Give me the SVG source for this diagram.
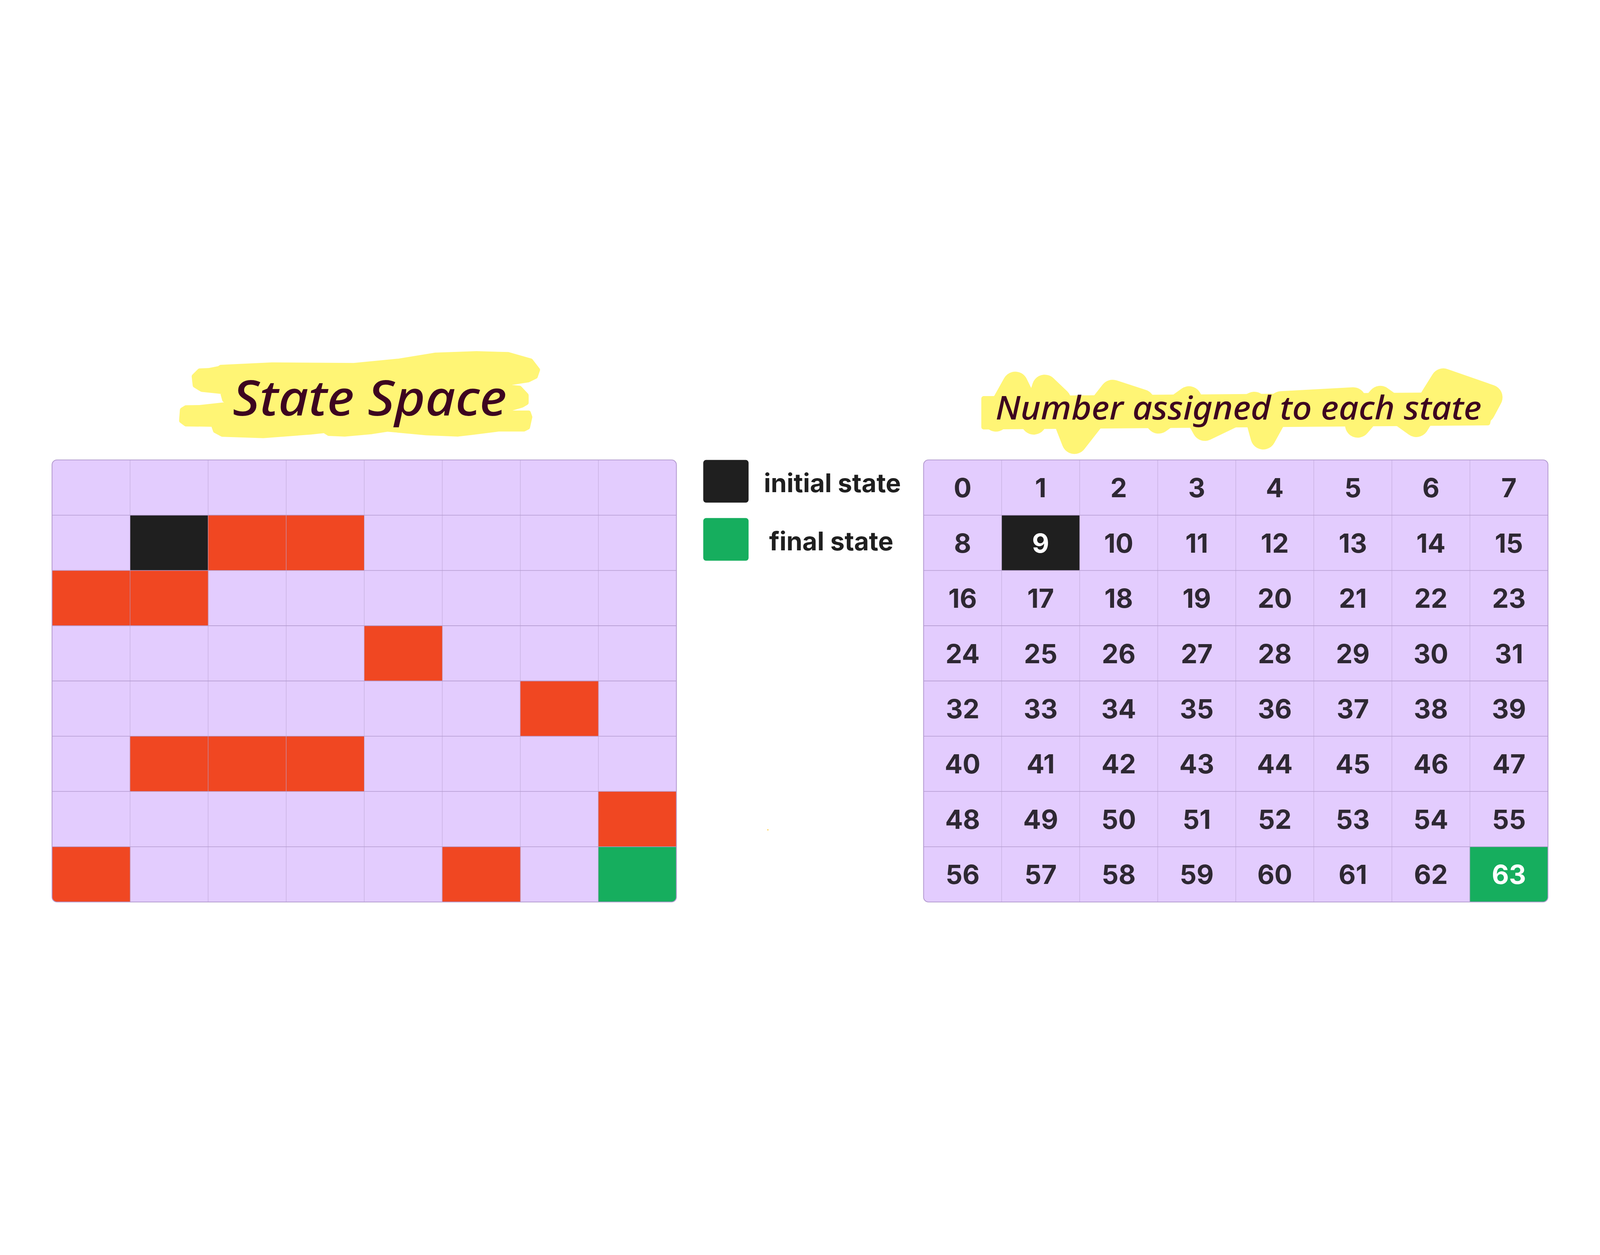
<svg xmlns="http://www.w3.org/2000/svg" width="7872" height="3213" viewBox="0 0 7872 3213" style="width:100vw;height:100vh;display:block">
  <defs>
    <style>
      .bg { fill: #e3ccfe; }
      .frame { fill: none; stroke: #b49bd0; stroke-width: 4; }
      .vl { stroke: #bea8d6; stroke-width: 2; }
      .hl { stroke: #b49bd0; stroke-width: 3; }
      .red { fill: #f04722; stroke: #d63a18; stroke-width: 2; }
      .blk { fill: #1f1f1f; }
      .grn { fill: #16ae5e; stroke: #0f9a50; stroke-width: 2; }
      .hi { fill: #fff575; stroke: #fff575; stroke-width: 24; stroke-linejoin: round; }
      .scr { fill: none; stroke: #fff575; stroke-width: 125; stroke-linejoin: round; stroke-linecap: round; }
      .title { fill: #3d0520; font-family: "Noto Sans", "DejaVu Sans", sans-serif; font-style: italic; font-weight: 500; }
      .num { fill: #2e2833; font-family: Inter, "Liberation Sans", sans-serif; font-weight: 700; font-size: 130px; text-anchor: middle; }
      .wnum { fill: #ffffff; }
      .leg { fill: #1f1f1f; font-family: Inter, "Liberation Sans", sans-serif; font-weight: 700; font-size: 126px; }
    </style>
    <clipPath id="clipL"><rect x="256" y="782" width="3072" height="2175" rx="24"/></clipPath>
    <clipPath id="clipR"><rect x="4544" y="782" width="3072" height="2175" rx="24"/></clipPath>
    <g id="vlines">
      <line class="vl" x1="384" y1="782" x2="384" y2="2957"/>
      <line class="vl" x1="768" y1="782" x2="768" y2="2957"/>
      <line class="vl" x1="1152" y1="782" x2="1152" y2="2957"/>
      <line class="vl" x1="1536" y1="782" x2="1536" y2="2957"/>
      <line class="vl" x1="1920" y1="782" x2="1920" y2="2957"/>
      <line class="vl" x1="2304" y1="782" x2="2304" y2="2957"/>
      <line class="vl" x1="2688" y1="782" x2="2688" y2="2957"/>
      <line class="hl" x1="0" y1="1053.875" x2="3072" y2="1053.875"/>
      <line class="hl" x1="0" y1="1325.75" x2="3072" y2="1325.75"/>
      <line class="hl" x1="0" y1="1597.625" x2="3072" y2="1597.625"/>
      <line class="hl" x1="0" y1="1869.5" x2="3072" y2="1869.5"/>
      <line class="hl" x1="0" y1="2141.375" x2="3072" y2="2141.375"/>
      <line class="hl" x1="0" y1="2413.25" x2="3072" y2="2413.25"/>
      <line class="hl" x1="0" y1="2685.125" x2="3072" y2="2685.125"/>
    </g>
  </defs>
  <rect width="7872" height="3213" fill="#ffffff"/>

  <g id="title-state-space">
    <path class="hi" d="M1087,326 L1339,314 L1741,317 L1964,295 L2143,266 L2344,259 L2500,263 L2611,295 L2645,339 L2634,371 L2600,388 L2511,402 L2507,424 L2556,429 L2589,464 L2589,500 L2567,513 L2444,549 L2600,551 L2607,571 L2596,621 L2578,630 L2455,630 L2321,647 L2254,655 L2098,649 L1908,631 L1830,643 L1696,655 L1618,652 L1596,638 L1529,645 L1295,663 L1094,656 L1060,638 L1049,607 L915,605 L893,589 L897,536 L915,525 L982,524 L1161,504 L1105,487 L1094,446 L993,435 L960,415 L955,371 L982,344 L1027,342 L1078,332 Z"/>
    <text class="title" x="1145" y="563" font-size="240" textLength="1348" lengthAdjust="spacingAndGlyphs">State Space</text>
  </g>

  <g id="title-numbers">
    <path class="hi" d="M4840,480 L7350,460 L7320,600 L4840,620 Z"/>
    <polyline class="scr" points="4900,580 4995,410 5086,595 5140,425 5208,490 5286,690 5474,450 5618,497 5700,590 5850,482 5928,626 6171,509 6215,668 6304,506 6658,487 6680,610 6791,480 6968,607 7101,394 7330,474 7295,540"/>
    <text class="title" x="4898" y="583" font-size="160" textLength="2391" lengthAdjust="spacingAndGlyphs">Number assigned to each state</text>
  </g>

  <g id="state-space-grid">
    <g clip-path="url(#clipL)">
      <rect class="bg" x="256" y="782" width="3072" height="2175"/>
      <rect class="blk" x="640" y="1053.875" width="384" height="271.875"/>
      <rect class="red" x="1024" y="1053.875" width="384" height="271.875"/>
      <rect class="red" x="1408" y="1053.875" width="384" height="271.875"/>
      <rect class="red" x="256" y="1325.75" width="384" height="271.875"/>
      <rect class="red" x="640" y="1325.75" width="384" height="271.875"/>
      <rect class="red" x="1792" y="1597.625" width="384" height="271.875"/>
      <rect class="red" x="2560" y="1869.5" width="384" height="271.875"/>
      <rect class="red" x="640" y="2141.375" width="384" height="271.875"/>
      <rect class="red" x="1024" y="2141.375" width="384" height="271.875"/>
      <rect class="red" x="1408" y="2141.375" width="384" height="271.875"/>
      <rect class="red" x="2944" y="2413.25" width="384" height="271.875"/>
      <rect class="red" x="256" y="2685.125" width="384" height="271.875"/>
      <rect class="red" x="2176" y="2685.125" width="384" height="271.875"/>
      <rect class="grn" x="2944" y="2685.125" width="384" height="271.875"/>
      <use href="#vlines" x="256"/>
    </g>
    <rect class="frame" x="256" y="782" width="3072" height="2175" rx="24"/>
  </g>

  <g id="legend-initial">
    <rect class="blk" x="3460" y="782" width="223" height="210" rx="14"/>
    <text class="leg" x="3758" y="941">initial state</text>
  </g>
  <g id="legend-final">
    <rect fill="#16ae5e" x="3460" y="1068" width="223" height="210" rx="14"/>
    <text class="leg" x="3784" y="1227">final state</text>
  </g>
  <circle cx="3778" cy="2602" r="3" fill="#ffc72c"/>

  <g id="numbered-grid">
    <g clip-path="url(#clipR)">
      <rect class="bg" x="4544" y="782" width="3072" height="2175"/>
      <rect class="blk" x="4928" y="1053.875" width="384" height="271.875"/>
      <rect class="grn" x="7232" y="2685.125" width="384" height="271.875"/>
      <use href="#vlines" x="4544"/>
    </g>
    <rect class="frame" x="4544" y="782" width="3072" height="2175" rx="24"/>
    <g id="numbers">
      <text class="num" x="4736" y="966">0</text>
      <text class="num" x="5120" y="966">1</text>
      <text class="num" x="5504" y="966">2</text>
      <text class="num" x="5888" y="966">3</text>
      <text class="num" x="6272" y="966">4</text>
      <text class="num" x="6656" y="966">5</text>
      <text class="num" x="7040" y="966">6</text>
      <text class="num" x="7424" y="966">7</text>
      <text class="num" x="4736" y="1238">8</text>
      <text class="num wnum" x="5120" y="1238">9</text>
      <text class="num" x="5504" y="1238">10</text>
      <text class="num" x="5888" y="1238">11</text>
      <text class="num" x="6272" y="1238">12</text>
      <text class="num" x="6656" y="1238">13</text>
      <text class="num" x="7040" y="1238">14</text>
      <text class="num" x="7424" y="1238">15</text>
      <text class="num" x="4736" y="1510">16</text>
      <text class="num" x="5120" y="1510">17</text>
      <text class="num" x="5504" y="1510">18</text>
      <text class="num" x="5888" y="1510">19</text>
      <text class="num" x="6272" y="1510">20</text>
      <text class="num" x="6656" y="1510">21</text>
      <text class="num" x="7040" y="1510">22</text>
      <text class="num" x="7424" y="1510">23</text>
      <text class="num" x="4736" y="1782">24</text>
      <text class="num" x="5120" y="1782">25</text>
      <text class="num" x="5504" y="1782">26</text>
      <text class="num" x="5888" y="1782">27</text>
      <text class="num" x="6272" y="1782">28</text>
      <text class="num" x="6656" y="1782">29</text>
      <text class="num" x="7040" y="1782">30</text>
      <text class="num" x="7424" y="1782">31</text>
      <text class="num" x="4736" y="2053">32</text>
      <text class="num" x="5120" y="2053">33</text>
      <text class="num" x="5504" y="2053">34</text>
      <text class="num" x="5888" y="2053">35</text>
      <text class="num" x="6272" y="2053">36</text>
      <text class="num" x="6656" y="2053">37</text>
      <text class="num" x="7040" y="2053">38</text>
      <text class="num" x="7424" y="2053">39</text>
      <text class="num" x="4736" y="2325">40</text>
      <text class="num" x="5120" y="2325">41</text>
      <text class="num" x="5504" y="2325">42</text>
      <text class="num" x="5888" y="2325">43</text>
      <text class="num" x="6272" y="2325">44</text>
      <text class="num" x="6656" y="2325">45</text>
      <text class="num" x="7040" y="2325">46</text>
      <text class="num" x="7424" y="2325">47</text>
      <text class="num" x="4736" y="2597">48</text>
      <text class="num" x="5120" y="2597">49</text>
      <text class="num" x="5504" y="2597">50</text>
      <text class="num" x="5888" y="2597">51</text>
      <text class="num" x="6272" y="2597">52</text>
      <text class="num" x="6656" y="2597">53</text>
      <text class="num" x="7040" y="2597">54</text>
      <text class="num" x="7424" y="2597">55</text>
      <text class="num" x="4736" y="2869">56</text>
      <text class="num" x="5120" y="2869">57</text>
      <text class="num" x="5504" y="2869">58</text>
      <text class="num" x="5888" y="2869">59</text>
      <text class="num" x="6272" y="2869">60</text>
      <text class="num" x="6656" y="2869">61</text>
      <text class="num" x="7040" y="2869">62</text>
      <text class="num wnum" x="7424" y="2869">63</text>
    </g>
  </g>
  <g id="connectors"/>
</svg>
